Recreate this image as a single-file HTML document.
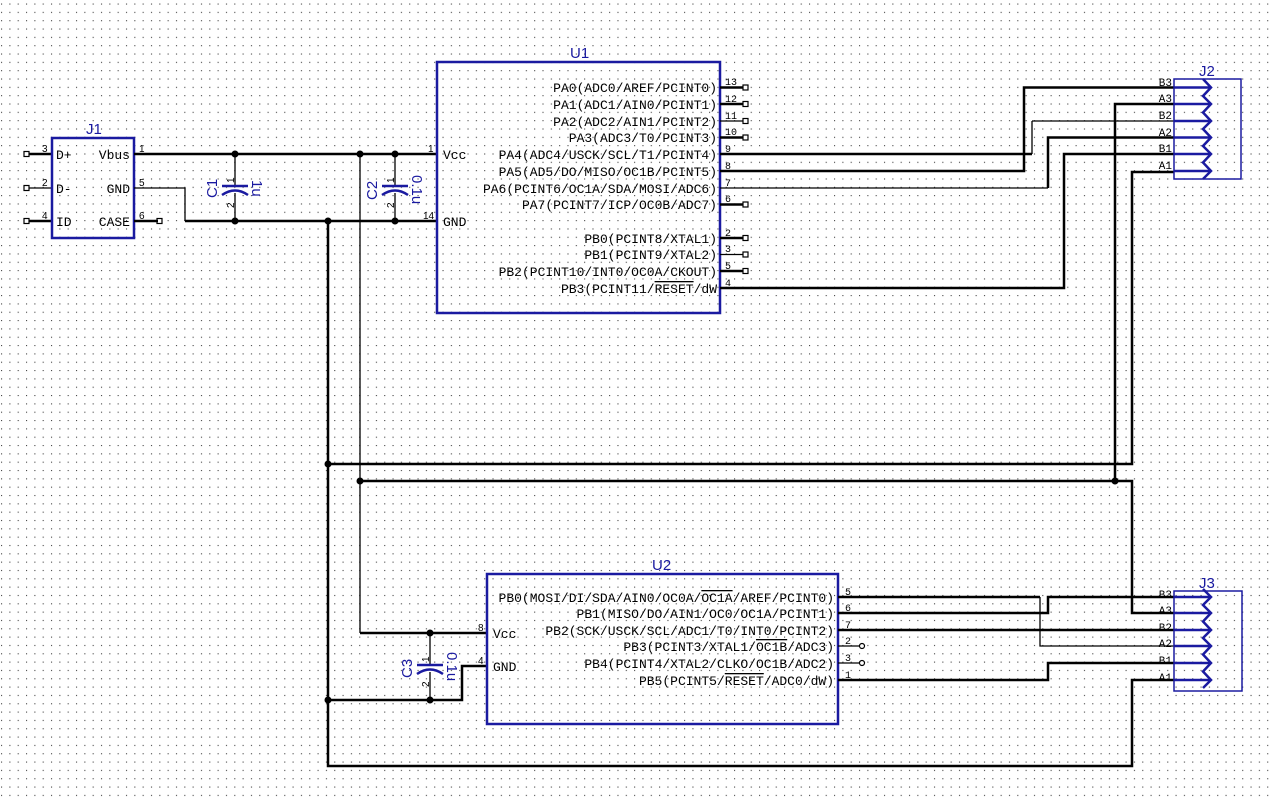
<!DOCTYPE html>
<html><head><meta charset="utf-8">
<style>
html,body{margin:0;padding:0;background:#fff;}
svg{display:block;}
text{font-family:"Liberation Mono",monospace;}
.lbl{font-size:13px;fill:#000;}
.pn{font-size:10px;fill:#000;font-family:"Liberation Sans",sans-serif;}
.ref{font-family:"Liberation Sans",sans-serif;font-size:15px;fill:#1a1aa0;}
</style></head>
<body>
<svg width="1270" height="800" viewBox="0 0 1270 800" xmlns="http://www.w3.org/2000/svg">
<defs>
<pattern id="g" x="1" y="3.5" width="8.33" height="8.33" patternUnits="userSpaceOnUse">
<rect x="0" y="0" width="1.1" height="1.1" fill="#444"/>
</pattern>
</defs>
<rect width="1270" height="800" fill="url(#g)"/>

<!-- ===== J1 ===== -->
<g fill="none" stroke="#000">
<path d="M27 154H52M27 221H52" stroke-width="2.5"/>
<path d="M27 188H52" stroke-width="1.3"/>
</g>
<g fill="#fff" stroke="#000" stroke-width="1.2">
<rect x="24" y="151.5" width="5" height="5"/><rect x="24" y="185.5" width="5" height="5"/><rect x="24" y="218.5" width="5" height="5"/>
<rect x="157" y="218.5" width="5" height="5"/>
</g>
<rect x="52" y="138" width="82" height="100" fill="none" stroke="#1a1aa0" stroke-width="2.5"/>
<text class="ref" x="86" y="134">J1</text>
<text class="pn" x="42" y="152">3</text><text class="pn" x="42" y="186">2</text><text class="pn" x="42" y="219">4</text>
<text class="lbl" x="56" y="159">D+</text><text class="lbl" x="56" y="193">D-</text><text class="lbl" x="56" y="226">ID</text>
<text class="lbl" x="130" y="159" text-anchor="end">Vbus</text>
<text class="lbl" x="130" y="193" text-anchor="end">GND</text>
<text class="lbl" x="130" y="226" text-anchor="end">CASE</text>
<text class="pn" x="139" y="152">1</text><text class="pn" x="139" y="186">5</text><text class="pn" x="139" y="219">6</text>
<path d="M134 221H158" stroke="#000" stroke-width="2.5"/>

<!-- ===== wires left ===== -->
<g fill="none" stroke="#000" stroke-width="2.5">
<path d="M134 154H437"/>
<path d="M185 221H437"/>
<path d="M328 221V766H1132V680H1174"/>
<path d="M328 464H1132V172H1174"/>
<path d="M360 481H1132V613H1174"/>
<path d="M1115 481V104H1174"/>
<path d="M360 633H487"/>
<path d="M328 700H462V666H487"/>
</g>
<g fill="none" stroke="#000" stroke-width="1.3">
<path d="M134 188H185V221"/>
<path d="M360 154V633"/>
</g>

<!-- caps -->
<g stroke="#000" stroke-width="1.3" fill="none">
<path d="M235 154V186M235 193V221"/>
<path d="M395 154V186M395 193V221"/>
<path d="M430 633V665M430 672V700"/>
</g>
<g stroke="#1a1aa0" stroke-width="2.5" fill="none">
<path d="M222 186H248M222 195Q235 186 248 195"/>
<path d="M382 186H408M382 195Q395 186 408 195"/>
<path d="M417 665H443M417 674Q430 665 443 674"/>
</g>
<text class="pn" transform="translate(234,183) rotate(-90)">1</text>
<text class="pn" transform="translate(234,208) rotate(-90)">2</text>
<text class="pn" transform="translate(394,183) rotate(-90)">1</text>
<text class="pn" transform="translate(394,208) rotate(-90)">2</text>
<text class="pn" transform="translate(429,662) rotate(-90)">1</text>
<text class="pn" transform="translate(429,687) rotate(-90)">2</text>
<text class="ref" transform="translate(217,198) rotate(-90)">C1</text>
<text class="ref" transform="translate(252,180) rotate(90)">1u</text>
<text class="ref" transform="translate(377,200) rotate(-90)">C2</text>
<text class="ref" transform="translate(412,175) rotate(90)">0.1u</text>
<text class="ref" transform="translate(412,678) rotate(-90)">C3</text>
<text class="ref" transform="translate(447,652) rotate(90)">0.1u</text>

<!-- junctions -->
<g fill="#000">
<circle cx="235" cy="154" r="3.5"/><circle cx="235" cy="221" r="3.5"/>
<circle cx="360" cy="154" r="3.5"/><circle cx="395" cy="154" r="3.5"/><circle cx="395" cy="221" r="3.5"/>
<circle cx="328" cy="221" r="3.5"/><circle cx="328" cy="464" r="3.5"/><circle cx="360" cy="481" r="3.5"/>
<circle cx="1115" cy="481" r="3.5"/>
<circle cx="430" cy="633" r="3.5"/><circle cx="430" cy="700" r="3.5"/><circle cx="328" cy="700" r="3.5"/>
</g>

<!-- ===== U1 ===== -->
<rect x="437" y="62" width="283" height="251" fill="none" stroke="#1a1aa0" stroke-width="2.5"/>
<text class="ref" x="570" y="58">U1</text>
<text class="lbl" x="443" y="159">Vcc</text>
<text class="lbl" x="443" y="226">GND</text>
<text class="pn" x="428" y="152">1</text><text class="pn" x="423" y="219">14</text>
<g class="lbl" text-anchor="end">
<text x="717" y="92">PA0(ADC0/AREF/PCINT0)</text>
<text x="717" y="109">PA1(ADC1/AIN0/PCINT1)</text>
<text x="717" y="126">PA2(ADC2/AIN1/PCINT2)</text>
<text x="717" y="142">PA3(ADC3/T0/PCINT3)</text>
<text x="717" y="159">PA4(ADC4/USCK/SCL/T1/PCINT4)</text>
<text x="717" y="176">PA5(AD5/DO/MISO/OC1B/PCINT5)</text>
<text x="717" y="193">PA6(PCINT6/OC1A/SDA/MOSI/ADC6)</text>
<text x="717" y="209">PA7(PCINT7/ICP/OC0B/ADC7)</text>
<text x="717" y="243">PB0(PCINT8/XTAL1)</text>
<text x="717" y="259">PB1(PCINT9/XTAL2)</text>
<text x="717" y="276">PB2(PCINT10/INT0/OC0A/CKOUT)</text>
<text x="717" y="293">PB3(PCINT11/<tspan text-decoration="overline">RESET</tspan>/dW</text>
</g>
<g class="pn">
<text x="725" y="85">13</text><text x="725" y="102">12</text><text x="725" y="119">11</text><text x="725" y="135">10</text>
<text x="725" y="152">9</text><text x="725" y="169">8</text><text x="725" y="186">7</text><text x="725" y="202">6</text>
<text x="725" y="236">2</text><text x="725" y="252">3</text><text x="725" y="269">5</text><text x="725" y="286">4</text>
</g>
<g stroke="#000" fill="none">
<path d="M720 87.5H744M720 104H744M720 137.5H744M720 204.5H744M720 238H744M720 271H744" stroke-width="2.5"/>
<path d="M720 121H744M720 254.5H744" stroke-width="1.3"/>
<path d="M720 154H1032" stroke-width="2.5"/>
<path d="M1032 121V154" stroke-width="1.3"/>
<path d="M1032 121H1174" stroke-width="1.3"/>
<path d="M720 171H1024V87.5H1174" stroke-width="2.5"/>
<path d="M720 188H1048" stroke-width="1.3"/>
<path d="M1048 188V137.5H1174" stroke-width="2.5"/>
<path d="M720 288H1064V154H1174" stroke-width="2.5"/>
</g>
<g fill="#fff" stroke="#000" stroke-width="1.2">
<rect x="743" y="85" width="5" height="5"/><rect x="743" y="101.5" width="5" height="5"/><rect x="743" y="118.5" width="5" height="5"/><rect x="743" y="135" width="5" height="5"/>
<rect x="743" y="202" width="5" height="5"/><rect x="743" y="235.5" width="5" height="5"/><rect x="743" y="252" width="5" height="5"/><rect x="743" y="268.5" width="5" height="5"/>
</g>

<!-- ===== J2 ===== -->
<rect x="1174" y="79" width="67" height="100" fill="none" stroke="#1a1aa0" stroke-width="1.5"/>
<text class="ref" x="1199" y="76">J2</text>
<g stroke="#1a1aa0" stroke-width="2.5" fill="none">
<path d="M1174 87.5H1211M1174 104H1211M1174 121H1211M1174 137.5H1211M1174 154H1211M1174 171H1211"/>
<polyline points="1203,79 1211,87.5 1203,96 1211,104 1203,112.5 1211,121 1203,129 1211,137.5 1203,146 1211,154 1203,162.5 1211,171 1203,179"/>
</g>
<g class="pn" text-anchor="end" style="font-size:11px">
<text x="1172" y="86">B3</text><text x="1172" y="102">A3</text><text x="1172" y="119">B2</text>
<text x="1172" y="136">A2</text><text x="1172" y="152">B1</text><text x="1172" y="169">A1</text>
</g>

<!-- ===== U2 ===== -->
<rect x="487" y="574" width="351" height="150" fill="none" stroke="#1a1aa0" stroke-width="2.5"/>
<text class="ref" x="652" y="570">U2</text>
<text class="lbl" x="493" y="638">Vcc</text>
<text class="lbl" x="493" y="671">GND</text>
<text class="pn" x="478" y="631">8</text><text class="pn" x="478" y="664">4</text>
<g class="lbl" text-anchor="end">
<text x="834" y="602">PB0(MOSI/DI/SDA/AIN0/OC0A/<tspan text-decoration="overline">OC1A</tspan>/AREF/PCINT0)</text>
<text x="834" y="618">PB1(MISO/DO/AIN1/OC0/OC1A/PCINT1)</text>
<text x="834" y="635">PB2(SCK/USCK/SCL/ADC1/T0/INT0/PCINT2)</text>
<text x="834" y="651">PB3(PCINT3/XTAL1/<tspan text-decoration="overline">OC1B</tspan>/ADC3)</text>
<text x="834" y="668">PB4(PCINT4/XTAL2/CLKO/OC1B/ADC2)</text>
<text x="834" y="685">PB5(PCINT5/<tspan text-decoration="overline">RESET</tspan>/ADC0/dW)</text>
</g>
<g class="pn">
<text x="845" y="595">5</text><text x="845" y="611">6</text><text x="845" y="628">7</text>
<text x="845" y="644">2</text><text x="845" y="661">3</text><text x="845" y="678">1</text>
</g>
<g stroke="#000" fill="none">
<path d="M838 597H1040" stroke-width="2.5"/>
<path d="M1040 597V646H1174" stroke-width="1.3"/>
<path d="M838 613H1048V597H1174" stroke-width="2.5"/>
<path d="M838 630H1174" stroke-width="2.5"/>
<path d="M838 680H1048V663H1174" stroke-width="2.5"/>
<path d="M838 646H860M838 663H860" stroke-width="1.3"/>
</g>
<g fill="#fff" stroke="#000" stroke-width="1.2">
<circle cx="862" cy="646" r="2.5"/><circle cx="862" cy="663" r="2.5"/>
</g>

<!-- ===== J3 ===== -->
<rect x="1174" y="591" width="68" height="100" fill="none" stroke="#1a1aa0" stroke-width="1.5"/>
<text class="ref" x="1199" y="588">J3</text>
<g stroke="#1a1aa0" stroke-width="2.5" fill="none">
<path d="M1174 597H1211M1174 613H1211M1174 630H1211M1174 646H1211M1174 663H1211M1174 680H1211"/>
<polyline points="1203,589 1211,597 1203,605 1211,613 1203,621.5 1211,630 1203,638 1211,646 1203,654.5 1211,663 1203,671.5 1211,680 1203,688"/>
</g>
<g class="pn" text-anchor="end" style="font-size:11px">
<text x="1172" y="598">B3</text><text x="1172" y="614">A3</text><text x="1172" y="631">B2</text>
<text x="1172" y="647">A2</text><text x="1172" y="664">B1</text><text x="1172" y="681">A1</text>
</g>
</svg>
</body></html>
